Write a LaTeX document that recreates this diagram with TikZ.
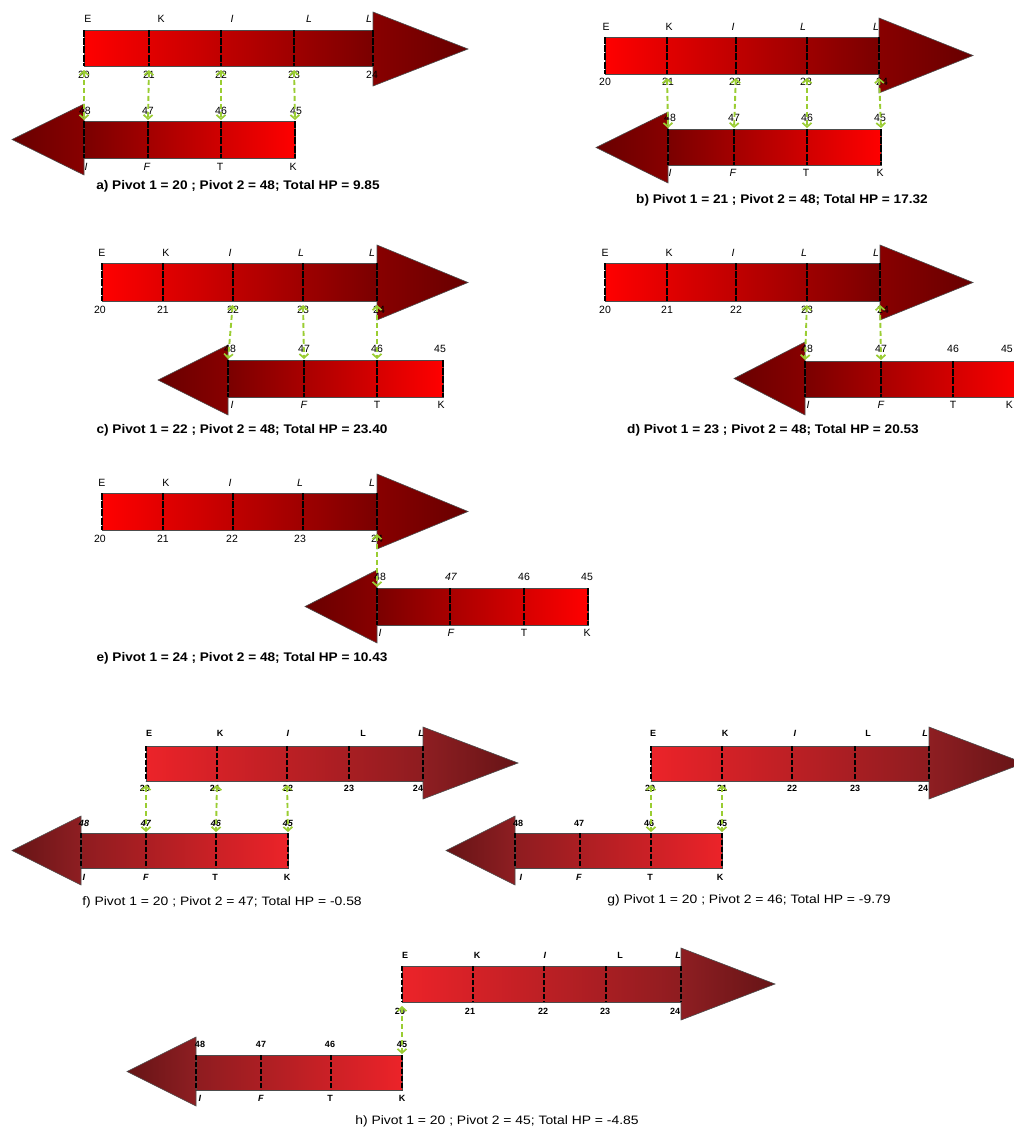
\documentclass[tikz,border=0pt]{standalone}
\usepackage{fontspec}
\setmainfont{Liberation Sans}
\newfontfamily\capbold[FakeStretch=1.09]{Liberation Sans Bold}
\newfontfamily\capplain[FakeStretch=1.14]{Liberation Sans}
\usetikzlibrary{arrows.meta}

\definecolor{redA}{HTML}{FF0000}
\definecolor{redM}{HTML}{D80000}
\definecolor{redB}{HTML}{7A0000}
\definecolor{headA}{HTML}{880000}
\definecolor{headB}{HTML}{680000}
\definecolor{redC}{HTML}{EC2329}
\definecolor{redN}{HTML}{D4252A}
\definecolor{redD}{HTML}{8E1C20}
\definecolor{headC}{HTML}{8E1E22}
\definecolor{headD}{HTML}{661416}
\definecolor{pivotgreen}{HTML}{9ACD32}

% shaded bar pointing right: x0, x1, y top, y bottom, tip x, head top, head bottom
\newcommand\rightbar[7]{%
  \shadedraw[topbar,rim] (#1,#3) rectangle (#2,#4);
  \shadedraw[tophead,rim] (#2,#6) -- (#5,{(#6+#7)/2}) -- (#2,#7) -- cycle;
}
% shaded bar pointing left: x0 (head side), x1, y top, y bottom, tip x, head top, head bottom
\newcommand\leftbar[7]{%
  \shadedraw[botbar,rim] (#1,#3) rectangle (#2,#4);
  \shadedraw[bothead,rim] (#1,#6) -- (#5,{(#6+#7)/2}) -- (#1,#7) -- cycle;
}
% dashed dividers with named end points: prefix, y top, y bottom, x list
\newcommand\dividers[4]{%
  \foreach \x [count=\i] in {#4} {
    \draw[divider] (\x,#2) -- (\x,#3);
    \coordinate (#1t\i) at (\x,#2);
    \coordinate (#1b\i) at (\x,#3);
  }%
}
% a row of labels: prefix, y, list of x/text
\newcommand\labelrow[3]{%
  \foreach \x/\t [count=\i] in {#3} \node[lbl] (#1\i) at (\x,#2) {\t};%
}

\begin{document}
\begin{tikzpicture}[x=1pt,y=-1pt,
  rim/.style={draw=black!70,line width=0.6pt},
  divider/.style={line width=2.8pt,dash pattern=on 7pt off 1.2pt},
  link/.style={pivotgreen,line width=1.9pt,dash pattern=on 5pt off 3pt,
    {Straight Barb[length=4pt,width=9pt,line width=1.7pt]}-{Straight Barb[length=4pt,width=9pt,line width=1.7pt]},
    shorten <=4pt,shorten >=1pt},
  lbl/.style={inner sep=0pt,font=\fontsize{10.5}{11}\selectfont},
  captext/.style={inner sep=0pt,font=\capbold\fontsize{12.5}{14}\selectfont},
  topbar/.style={left color=redA,middle color=redM,right color=redB},
  botbar/.style={left color=redB,middle color=redM,right color=redA},
  tophead/.style={left color=headA,right color=headB},
  bothead/.style={left color=headB,right color=headA},
]
\useasboundingbox (0,0) rectangle (1014,1130);
\clip (0,0) rectangle (1014,1130);
\fill[white] (0,0) rectangle (1014,1130);

% ---------- a) ----------
\rightbar{84}{373}{30}{66}{468}{12}{86}
\dividers{aT}{30}{66}{84,149,221,294,373}
\labelrow{aTu}{19}{88/E,161/K,232/\textit{I},309/\textit{L},369/\textit{L}}
\labelrow{aTl}{75}{84/20,149/21,221/22,294/23,372/24}
\leftbar{84}{295}{121}{158}{12}{104}{175}
\dividers{aB}{121}{158}{84,148,221,295}
\labelrow{aBu}{111}{85/48,148/47,221/46,296/45}
\labelrow{aBl}{167}{86/\textit{I},147/\textit{F},220/T,293/K}
\foreach \i/\j in {1/1,2/2,3/3,4/4} \draw[link] (aTb\i) -- (aBt\j);
\node[captext] (capA) at (238,186) {a) Pivot 1 = 20 ; Pivot 2 = 48; Total HP = 9.85};

% ---------- b) ----------
\rightbar{605}{879}{37}{74}{973}{18}{93}
\dividers{bT}{37}{74}{605,667,736,807,879}
\labelrow{bTu}{27}{606/E,669/K,733/\textit{I},803/\textit{L},876/\textit{L}}
\labelrow{bTl}{82}{605/20,668/21,735/22,806/23,882/24}
\leftbar{668}{881}{129}{165}{596}{112}{183}
\dividers{bB}{129}{165}{668,734,807,881}
\labelrow{bBu}{118}{670/48,734/47,807/46,880/45}
\labelrow{bBl}{173}{670/\textit{I},733/\textit{F},806/T,880/K}
\foreach \i/\j in {2/1,3/2,4/3,5/4} \draw[link] (bTb\i) -- (bBt\j);
\node[captext] (capB) at (782,200) {b) Pivot 1 = 21 ; Pivot 2 = 48; Total HP = 17.32};

% ---------- c) ----------
\rightbar{102}{377}{263}{301}{468}{245}{320}
\dividers{cT}{263}{301}{102,163,233,303,377}
\labelrow{cTu}{253}{102/E,166/K,230/\textit{I},301/\textit{L},372/\textit{L}}
\labelrow{cTl}{310}{100/20,163/21,233/22,303/23,379/24}
\leftbar{228}{443}{360}{397}{158}{345}{415}
\dividers{cB}{360}{397}{228,304,377,443}
\labelrow{cBu}{349}{230/48,304/47,377/46,440/45}
\labelrow{cBl}{405}{232/\textit{I},304/\textit{F},377/T,441/K}
\foreach \i/\j in {3/1,4/2,5/3} \draw[link] (cTb\i) -- (cBt\j);
\node[captext] (capC) at (242,430) {c) Pivot 1 = 22 ; Pivot 2 = 48; Total HP = 23.40};

% ---------- d) ----------
\rightbar{605}{880}{263}{301}{973}{245}{320}
\dividers{dT}{263}{301}{605,667,736,807,880}
\labelrow{dTu}{253}{605/E,669/K,733/\textit{I},804/\textit{L},876/\textit{L}}
\labelrow{dTl}{310}{605/20,667/21,736/22,807/23,883/24}
\leftbar{805}{1025}{361}{397}{734}{342}{415}
\dividers{dB}{361}{397}{805,881,953,1025}
\labelrow{dBu}{349}{807/48,881/47,953/46}
\labelrow{dBl}{405}{808/\textit{I},881/\textit{F},953/T}
\node[lbl,anchor=east] (dBu4) at (1013,349) {45};
\node[lbl,anchor=east] (dBl4) at (1013,405) {K};
\foreach \i/\j in {4/1,5/2} \draw[link] (dTb\i) -- (dBt\j);
\node[captext] (capD) at (773,430) {d) Pivot 1 = 23 ; Pivot 2 = 48; Total HP = 20.53};

% ---------- e) ----------
\rightbar{102}{377}{493}{530}{468}{474}{549}
\dividers{eT}{493}{530}{102,163,233,303,377}
\labelrow{eTu}{483}{102/E,166/K,230/\textit{I},300/\textit{L},372/\textit{L}}
\labelrow{eTl}{539}{100/20,163/21,232/22,300/23,377/24}
\leftbar{377}{588}{588}{625}{305}{570}{643}
\dividers{eB}{588}{625}{377,450,524,588}
\labelrow{eBu}{577}{380/48,451/\textit{47},524/46,587/45}
\labelrow{eBl}{633}{380/\textit{I},451/\textit{F},524/T,587/K}
\draw[link] (eTb5) -- (eBt1);
\node[captext] (capE) at (242,658) {e) Pivot 1 = 24 ; Pivot 2 = 48; Total HP = 10.43};

% ---------- f) to h): second colour scheme ----------
\begin{scope}[
  topbar/.style={left color=redC,middle color=redN,right color=redD},
  botbar/.style={left color=redD,middle color=redN,right color=redC},
  tophead/.style={left color=headC,right color=headD},
  bothead/.style={left color=headD,right color=headC},
  divider/.style={line width=2.4pt,dash pattern=on 5pt off 2pt},
  lbl/.style={inner sep=0pt,font=\bfseries\fontsize{9}{10}\selectfont},
  captext/.style={inner sep=0pt,font=\capplain\fontsize{12.2}{14}\selectfont},
  ]
% f)
\rightbar{146}{423}{746}{781}{518}{727}{799}
\dividers{fT}{746}{781}{146,217,287,349,423}
\labelrow{fTu}{733}{149/E,220/K,288/\textit{I},363/L,421/\textit{L}}
\labelrow{fTl}{788}{145/20,215/21,288/22,349/23,418/24}
\leftbar{81}{288}{833}{868}{12}{816}{885}
\dividers{fB}{833}{868}{81,146,216,288}
\labelrow{fBu}{823}{84/\textit{48},146/\textit{47},216/\textit{46},288/\textit{45}}
\labelrow{fBl}{877}{84/\textit{I},146/\textit{F},215/T,287/K}
\foreach \i/\j in {1/2,2/3,3/4} \draw[link] (fTb\i) -- (fBt\j);
\node[captext] (capF) at (222,902) {f) Pivot 1 = 20 ; Pivot 2 = 47; Total HP = -0.58};

% g)
\rightbar{651}{929}{746}{781}{1024}{727}{799}
\dividers{gT}{746}{781}{651,722,792,855,929}
\labelrow{gTu}{733}{653/E,725/K,795/\textit{I},868/L,925/\textit{L}}
\labelrow{gTl}{788}{650/20,722/21,792/22,855/23,923/24}
\leftbar{515}{722}{833}{868}{446}{816}{885}
\dividers{gB}{833}{868}{515,580,651,722}
\labelrow{gBu}{823}{518/48,579/47,649/46,722/45}
\labelrow{gBl}{877}{521/\textit{I},579/\textit{F},650/T,720/K}
\foreach \i/\j in {1/3,2/4} \draw[link] (gTb\i) -- (gBt\j);
\node[captext] (capG) at (749,900) {g) Pivot 1 = 20 ; Pivot 2 = 46; Total HP = -9.79};

% h)
\rightbar{402}{681}{966}{1002}{775}{948}{1020}
\dividers{hT}{966}{1002}{402,473,544,606,681}
\labelrow{hTu}{955}{405/E,477/K,545/\textit{I},620/L,678/\textit{L}}
\labelrow{hTl}{1011}{400/20,470/21,543/22,605/23,675/24}
\leftbar{196}{402}{1055}{1090}{127}{1037}{1106}
\dividers{hB}{1055}{1090}{196,261,331,402}
\labelrow{hBu}{1044}{200/48,261/47,330/46,402/45}
\labelrow{hBl}{1098}{200/\textit{I},261/\textit{F},330/T,402/K}
\draw[link] (hTb1) -- (hBt4);
\node[captext] (capH) at (497,1121) {h) Pivot 1 = 20 ; Pivot 2 = 45; Total HP = -4.85};
\end{scope}
\end{tikzpicture}
\end{document}
